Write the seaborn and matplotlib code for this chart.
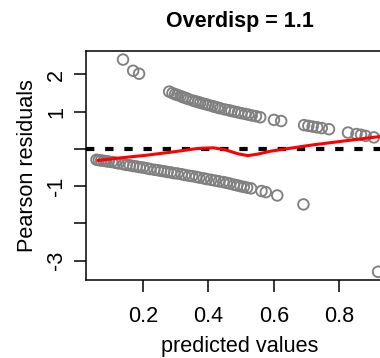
import matplotlib
matplotlib.use("Agg")
import matplotlib.pyplot as plt
import seaborn as sns
import pandas as pd

# Pearson residuals vs. fitted probabilities (binomial fit, overdispersion 1.1)
upper_x = [0.139, 0.170, 0.188,
           0.280, 0.290, 0.298, 0.305, 0.315, 0.322, 0.330, 0.338, 0.352, 0.360,
           0.368, 0.375, 0.383, 0.392, 0.400, 0.412, 0.420, 0.428, 0.436, 0.450,
           0.462, 0.470, 0.480, 0.490, 0.500, 0.512, 0.522, 0.532, 0.545, 0.558,
           0.600, 0.622,
           0.692, 0.705, 0.718, 0.732, 0.746, 0.768,
           0.826, 0.852, 0.866, 0.880, 0.905]
upper_y = [2.40, 2.10, 2.02,
           1.54, 1.50, 1.47, 1.45, 1.42, 1.39, 1.37, 1.34, 1.30, 1.28,
           1.26, 1.24, 1.22, 1.20, 1.18, 1.15, 1.13, 1.11, 1.09, 1.06,
           1.04, 1.02, 1.00, 0.98, 0.96, 0.94, 0.92, 0.90, 0.88, 0.85,
           0.78, 0.75,
           0.64, 0.62, 0.60, 0.58, 0.56, 0.53,
           0.44, 0.40, 0.38, 0.35, 0.31]

lower_x = [0.058, 0.065, 0.072, 0.080, 0.088, 0.095, 0.105, 0.115, 0.125, 0.140,
           0.150, 0.160, 0.170, 0.180, 0.190, 0.200, 0.212, 0.222, 0.235, 0.245,
           0.255, 0.265, 0.275, 0.285, 0.295, 0.305, 0.318, 0.328, 0.340, 0.350,
           0.362, 0.372, 0.385, 0.395, 0.408, 0.420, 0.432, 0.445, 0.455, 0.465,
           0.478, 0.488, 0.498, 0.508, 0.518, 0.530, 0.562, 0.575, 0.610,
           0.690, 0.918]
lower_y = [-0.29, -0.30, -0.31, -0.32, -0.33, -0.34, -0.35, -0.37, -0.39, -0.41,
           -0.43, -0.44, -0.46, -0.47, -0.49, -0.50, -0.52, -0.54, -0.56, -0.57,
           -0.59, -0.60, -0.62, -0.63, -0.65, -0.66, -0.68, -0.70, -0.72, -0.73,
           -0.75, -0.77, -0.79, -0.81, -0.83, -0.85, -0.87, -0.89, -0.91, -0.93,
           -0.96, -0.98, -1.00, -1.02, -1.04, -1.06, -1.13, -1.16, -1.25,
           -1.49, -3.30]

# lowess smooth through the residuals
smooth_x = [0.062, 0.12, 0.21, 0.30, 0.365, 0.415, 0.45, 0.49, 0.52, 0.55,
            0.59, 0.62, 0.72, 0.82, 0.93]
smooth_y = [-0.31, -0.25, -0.17, -0.07, 0.01, 0.03, -0.02, -0.13, -0.18, -0.14,
            -0.06, -0.02, 0.11, 0.22, 0.34]

ytick_vals = [-3, -2, -1, 0, 1, 2]
ytick_text = ["-3", "", "-1", "", "1", "2"]
xtick_vals = [0.2, 0.4, 0.6, 0.8]
xtick_text = ["0.2", "0.4", "0.6", "0.8"]

sns.set_style("ticks")
plt.rcParams["font.family"] = ["Liberation Sans", "DejaVu Sans"]
plt.rcParams["text.color"] = "black"
plt.rcParams["axes.labelcolor"] = "black"

pts = pd.DataFrame({"fitted": upper_x + lower_x, "resid": upper_y + lower_y})
smooth = pd.DataFrame({"fitted": smooth_x, "resid": smooth_y})

fig = plt.figure(figsize=(3.8, 3.58), dpi=100)
ax = fig.add_axes([0.2255, 0.2179, 0.81, 0.6396])

ax.axhline(0, color="black", lw=3, linestyle=(0, (2.0, 2.6)), zorder=1)
sns.scatterplot(data=pts, x="fitted", y="resid", ax=ax, marker="o", s=58,
                facecolor="none", edgecolor="#808080", linewidth=1.35, zorder=2)
sns.lineplot(data=smooth, x="fitted", y="resid", ax=ax, color="#ff0000",
             lw=2.2, sort=False, zorder=3)

ax.set_xlim(0.025, 0.965)
ax.set_ylim(-3.52, 2.63)
ax.set_xticks(xtick_vals)
ax.set_xticklabels(xtick_text)
ax.set_yticks(ytick_vals)
ax.set_yticklabels(ytick_text, rotation=90, va="center")

for s in ax.spines.values():
    s.set_linewidth(1.1)
    s.set_color("black")
ax.tick_params(axis="both", length=8.5, width=1.1, color="black",
               labelsize=15.6, labelcolor="black")
ax.tick_params(axis="x", pad=10)
ax.tick_params(axis="y", pad=5)

ax.set_xlabel("predicted values", fontsize=15.6, labelpad=7)
ax.set_ylabel("Pearson residuals", fontsize=15.6, labelpad=6)
ax.set_title("Overdisp = 1.1", fontsize=15.5, fontweight="bold", pad=17)

fig.savefig("out.png", dpi=100)
